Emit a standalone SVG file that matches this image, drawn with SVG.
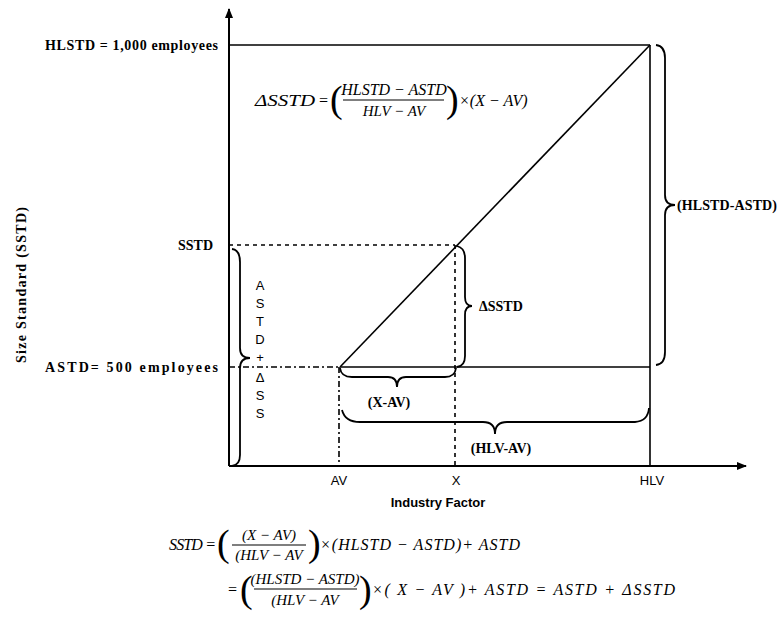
<svg xmlns="http://www.w3.org/2000/svg" width="779" height="623" viewBox="0 0 779 623">
<style>
.ax{stroke:#000;stroke-width:2;fill:none}
.ln{stroke:#000;stroke-width:1.6;fill:none}
.bar{stroke:#000;stroke-width:1.2;fill:none}
.dash{stroke:#000;stroke-width:1.6;fill:none;stroke-dasharray:4 4}
.dd{stroke:#000;stroke-width:1.6;fill:none;stroke-dasharray:6 3 2 3}
.br{stroke:#000;stroke-width:1.8;fill:none}
.lbl{font-family:"Liberation Serif",serif;font-weight:bold;font-size:14px;fill:#000}
.sans{font-family:"Liberation Sans",sans-serif;font-size:13px;fill:#000}
.vl{font-family:"Liberation Sans",sans-serif;font-size:13px;fill:#000;text-anchor:middle}
.math{font-family:"Liberation Serif",serif;font-style:italic;font-size:16px;fill:#000}
.sm{font-size:15px}
.par{font-family:"Liberation Serif",serif;font-size:38px;fill:#000}
</style>
<defs>
<marker id="arr" markerWidth="10" markerHeight="10" refX="9" refY="5" orient="auto" markerUnits="userSpaceOnUse">
<path d="M0,1 L10,5 L0,9 Z" fill="#000"/>
</marker>
</defs>

<g id="axes">
<line class="ax" x1="229" y1="466" x2="229" y2="9" marker-end="url(#arr)"/>
<line class="ax" x1="229" y1="466" x2="746" y2="466" marker-end="url(#arr)"/>
</g>

<g id="connectors">
<line class="ln" x1="229" y1="45" x2="650" y2="45"/>
<line class="ln" x1="650" y1="45" x2="650" y2="466"/>
<line class="ln" x1="340" y1="367" x2="650" y2="45"/>
<line class="ln" x1="340" y1="367" x2="650" y2="367"/>
<line class="dd" x1="229" y1="367" x2="340" y2="367"/>
<line class="dd" x1="339" y1="367" x2="339" y2="466"/>
<line class="dash" x1="229" y1="245" x2="455" y2="245"/>
<line class="dash" x1="455" y1="245" x2="455" y2="466"/>
</g>

<g id="braces">
<path class="br" d="M232 249 Q240 250 240 262 L240 348 Q240 358 250 358 Q240 358 240 368 L240 455 Q240 465 232 466"/>
<path class="br" d="M457 246 Q465 248 465 258 L465 297 Q465 306 472 306 Q465 306 465 315 L465 356 Q465 366 457 367"/>
<path class="br" d="M656 45 Q665 46 665 58 L665 195 Q665 205 675 205 Q665 205 665 215 L665 352 Q665 364 656 365"/>
<path class="br" d="M340 368 Q341 377 352 377 L388 377 Q397 377 397 387 Q397 377 406 377 L445 377 Q455 377 456 368"/>
<path class="br" d="M342 410 Q345 422 360 422 L483 422 Q495 422 495 434 Q495 422 507 422 L635 422 Q648 421 649 408"/>
</g>

<g id="y-labels">
<text class="lbl" x="45" y="50" textLength="173" lengthAdjust="spacing">HLSTD = 1,000 employees</text>
<text class="lbl" x="213" y="250" text-anchor="end">SSTD</text>
<text class="lbl" x="45" y="372" textLength="173" lengthAdjust="spacing">ASTD= 500 employees</text>
<text transform="translate(26,285) rotate(-90)" font-family="Liberation Serif,serif" font-weight="bold" font-size="14" text-anchor="middle" textLength="156" lengthAdjust="spacing">Size Standard (SSTD)</text>
</g>

<g id="astd-letters">
<text class="vl" x="260" y="290">A</text>
<text class="vl" x="260" y="308">S</text>
<text class="vl" x="260" y="326">T</text>
<text class="vl" x="260" y="344">D</text>
<text class="vl" x="260" y="362">+</text>
<text class="vl" x="260" y="382" font-size="10">Δ</text>
<text class="vl" x="260" y="400">S</text>
<text class="vl" x="260" y="418">S</text>
</g>

<g id="brace-labels">
<text class="lbl" x="479" y="311">ΔSSTD</text>
<text class="lbl" x="677" y="210" textLength="100" lengthAdjust="spacing">(HLSTD-ASTD)</text>
<text class="lbl" x="389" y="407" text-anchor="middle">(X-AV)</text>
<text class="lbl" x="501" y="453" text-anchor="middle">(HLV-AV)</text>
</g>

<g id="x-labels">
<text class="sans" x="339" y="485" text-anchor="middle">AV</text>
<text class="sans" x="456" y="485" text-anchor="middle">X</text>
<text class="sans" x="652" y="485" text-anchor="middle">HLV</text>
<text class="sans" x="438" y="507" text-anchor="middle" font-weight="bold" font-size="12">Industry Factor</text>
</g>

<g id="formula-top">
<text class="math" x="255" y="106" font-size="18" textLength="60" lengthAdjust="spacingAndGlyphs">ΔSSTD</text>
<text class="math" x="318" y="106" font-size="18">=</text>
<text class="par" x="330" y="112">(</text>
<text class="math" x="394" y="95" text-anchor="middle">HLSTD − ASTD</text>
<line class="bar" x1="343" y1="100" x2="444" y2="100"/>
<text class="math sm" x="394" y="116" text-anchor="middle">HLV − AV</text>
<text class="par" x="446" y="112">)</text>
<text class="math" x="459" y="106">×(X − AV)</text>
</g>

<g id="formula-1">
<text class="math" x="169" y="550" textLength="47" lengthAdjust="spacing">SSTD =</text>
<text class="par" x="217" y="556">(</text>
<text class="math sm" x="269" y="540" text-anchor="middle">(X − AV)</text>
<line class="bar" x1="232" y1="545" x2="306" y2="545"/>
<text class="math sm" x="269" y="560" text-anchor="middle">(HLV − AV</text>
<text class="par" x="308" y="556">)</text>
<text class="math" x="320" y="550" font-size="17" textLength="200" lengthAdjust="spacing">×(HLSTD − ASTD)+ ASTD</text>
</g>

<g id="formula-2">
<text class="math" x="227" y="595">=</text>
<text class="par" x="240" y="602">(</text>
<text class="math sm" x="305" y="584" text-anchor="middle">(HLSTD − ASTD)</text>
<line class="bar" x1="254" y1="589" x2="357" y2="589"/>
<text class="math sm" x="305" y="605" text-anchor="middle">(HLV − AV</text>
<text class="par" x="359" y="602">)</text>
<text class="math" x="372" y="595" font-size="17" textLength="303" lengthAdjust="spacing">×( X − AV )+ ASTD = ASTD + ΔSSTD</text>
</g>
</svg>
